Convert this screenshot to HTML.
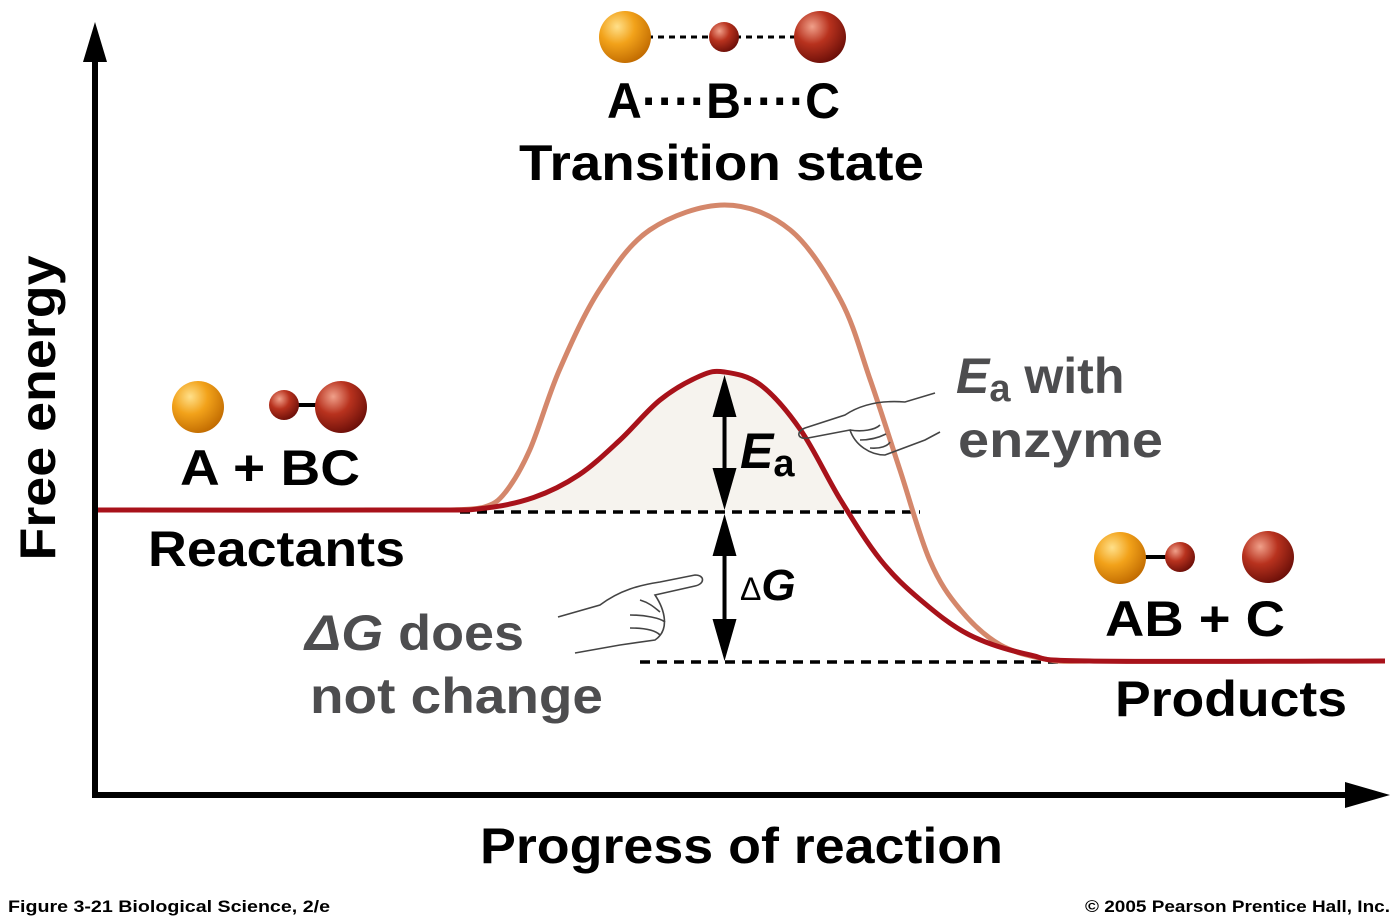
<!DOCTYPE html>
<html><head><meta charset="utf-8"><style>
html,body{margin:0;padding:0;background:#fff;}
svg{display:block;font-family:"Liberation Sans","DejaVu Sans",sans-serif;}
</style></head><body>
<svg id="chart" width="1400" height="918" viewBox="0 0 1400 918">
<defs>
<radialGradient id="gOr" cx="35%" cy="30%" r="75%"><stop offset="0" stop-color="#ffe08a"/><stop offset="0.45" stop-color="#f2a21a"/><stop offset="1" stop-color="#c06a00"/></radialGradient>
<radialGradient id="gRd" cx="35%" cy="30%" r="75%"><stop offset="0" stop-color="#f0a08a"/><stop offset="0.45" stop-color="#b8321e"/><stop offset="1" stop-color="#6a0e08"/></radialGradient>
</defs>
<g id="marks"></g>
<g>
<line x1="95" y1="50" x2="95" y2="797" stroke="#000" stroke-width="6"/>
<path d="M95,22 L83,62 L107,62 z" fill="#000"/>
</g>
<g>
<line x1="92" y1="795" x2="1360" y2="795" stroke="#000" stroke-width="6"/>
<path d="M1390,795 L1345,782 L1345,808 z" fill="#000"/>
</g>
<text transform="translate(55,408) rotate(-90)" text-anchor="middle" font-size="50" font-weight="bold" textLength="305" lengthAdjust="spacingAndGlyphs">Free energy</text>
<text x="480" y="863" font-size="50" font-weight="bold" textLength="523" lengthAdjust="spacingAndGlyphs">Progress of reaction</text>
<text x="8" y="912" font-size="17" font-weight="bold" textLength="322" lengthAdjust="spacingAndGlyphs">Figure 3-21   Biological Science, 2/e</text>
<text x="1085" y="912" font-size="17" font-weight="bold" textLength="305" lengthAdjust="spacingAndGlyphs">© 2005 Pearson Prentice Hall, Inc.</text>

<g>
<line x1="625" y1="37" x2="820" y2="37" stroke="#000" stroke-width="3" stroke-dasharray="6,5"/>
<circle cx="625" cy="37" r="26" fill="url(#gOr)"/>
<circle cx="724" cy="37" r="15" fill="url(#gRd)"/>
<circle cx="820" cy="37" r="26" fill="url(#gRd)"/>
</g>
<text x="607" y="118" font-size="50" font-weight="bold" textLength="233" lengthAdjust="spacingAndGlyphs">A····B····C</text>
<text x="519" y="180" font-size="50" font-weight="bold" textLength="405" lengthAdjust="spacingAndGlyphs">Transition state</text>

<g>
<circle cx="198" cy="407" r="26" fill="url(#gOr)"/>
<line x1="284" y1="405" x2="340" y2="405" stroke="#000" stroke-width="4"/>
<circle cx="284" cy="405" r="15" fill="url(#gRd)"/>
<circle cx="341" cy="407" r="26" fill="url(#gRd)"/>
</g>
<text x="180" y="485" font-size="50" font-weight="bold" textLength="180" lengthAdjust="spacingAndGlyphs">A + BC</text>
<text x="148" y="566" font-size="50" font-weight="bold" textLength="257" lengthAdjust="spacingAndGlyphs">Reactants</text>

<g>
<line x1="1120" y1="557" x2="1180" y2="557" stroke="#000" stroke-width="4"/>
<circle cx="1120" cy="558" r="26" fill="url(#gOr)"/>
<circle cx="1180" cy="557" r="15" fill="url(#gRd)"/>
<circle cx="1268" cy="557" r="26" fill="url(#gRd)"/>
</g>
<text x="1105" y="636" font-size="50" font-weight="bold" textLength="180" lengthAdjust="spacingAndGlyphs">AB + C</text>
<text x="1115" y="716" font-size="50" font-weight="bold" textLength="232" lengthAdjust="spacingAndGlyphs">Products</text>

<text x="740" y="468" font-size="50" font-weight="bold" font-style="italic">E<tspan font-size="38" font-style="normal" dy="8">a</tspan></text>
<text x="740" y="600" font-size="44" font-weight="bold"><tspan font-size="32" font-weight="normal">Δ</tspan><tspan font-style="italic">G</tspan></text>
<text x="956" y="393" font-size="50" font-weight="bold" fill="#4d4d4f"><tspan font-style="italic">E</tspan><tspan font-size="38" dy="8">a</tspan><tspan dy="-8"> with</tspan></text>
<text x="958" y="457" font-size="50" font-weight="bold" fill="#4d4d4f" textLength="205" lengthAdjust="spacingAndGlyphs">enzyme</text>
<text x="305" y="650" font-size="50" font-weight="bold" fill="#4d4d4f" textLength="219" lengthAdjust="spacingAndGlyphs"><tspan font-style="italic">ΔG</tspan> does</text>
<text x="310" y="713" font-size="50" font-weight="bold" fill="#4d4d4f" textLength="293" lengthAdjust="spacingAndGlyphs">not change</text>

<g fill="none" stroke="#444" stroke-width="1.6">
<path d="M935,393 L905,402 C880,400 860,405 845,415 L805,428 C795,432 798,440 808,438 L850,430 C855,445 870,455 885,455 L925,440 L940,432"/>
<path d="M850,430 C862,432 875,430 880,425 M860,440 C872,440 880,437 886,434 M870,448 C880,449 888,446 890,442"/>
</g>
<g fill="none" stroke="#444" stroke-width="1.6">
<path d="M558,617 L600,605 C620,590 640,585 660,582 L695,575 C705,575 705,584 695,586 L655,595 C665,610 670,630 655,640 L620,645 L575,653"/>
<path d="M640,600 C650,603 655,608 660,612 M630,615 C645,615 660,618 665,622 M630,628 C645,628 655,630 660,635"/>
</g>
</svg>
<script>
// data: progress (0-100) and free energy
const catProgress = [0, 25, 30, 34, 37.5, 40.7, 43.8, 46.9, 48.8, 51.6, 54.7, 57.8, 60.9, 64, 67.8, 72.5, 77.1, 100];
const catEnergy = [57, 57, 57.3, 59.5, 64, 71, 79, 83.8, 84.6, 82, 73, 59, 47, 39, 32, 28, 26.8, 26.8];
const uncatProgress = [27.5, 30.2, 31.8, 33.7, 36, 39.1, 43, 48.8, 53.9, 57.8, 60.1, 62.4, 64.7, 67.1, 70.2, 74, 77.1];
const uncatEnergy = [57, 57.6, 60.5, 69, 85, 101, 113, 118, 113, 99, 83, 65, 47, 37, 30, 27, 26.8];
const reactantLevel = 57;
const productLevel = 26.8;
const peakProgress = 48.8;

const X = p => 95 + p * 12.9;
const Y = e => 795 - e * 5;
const NS = "http://www.w3.org/2000/svg";
const g = document.getElementById('marks');
function smooth(px, py) {
  const pts = px.map((p, i) => [X(p), Y(py[i])]);
  let d = `M${pts[0][0]},${pts[0][1]}`;
  for (let i = 0; i < pts.length - 1; i++) {
    const p0 = pts[i - 1] || pts[i], p1 = pts[i], p2 = pts[i + 1], p3 = pts[i + 2] || p2;
    const c1 = [p1[0] + (p2[0] - p0[0]) / 6, p1[1] + (p2[1] - p0[1]) / 6];
    const c2 = [p2[0] - (p3[0] - p1[0]) / 6, p2[1] - (p3[1] - p1[1]) / 6];
    d += ` C${c1[0]},${c1[1]} ${c2[0]},${c2[1]} ${p2[0]},${p2[1]}`;
  }
  return d;
}
function mk(tag, attrs) { const el = document.createElementNS(NS, tag); for (const k in attrs) el.setAttribute(k, attrs[k]); g.appendChild(el); return el; }

const clip = document.createElementNS(NS, 'clipPath'); clip.setAttribute('id', 'aboveR');
const cr = document.createElementNS(NS, 'rect'); cr.setAttribute('x', 0); cr.setAttribute('y', 0); cr.setAttribute('width', 1400); cr.setAttribute('height', Y(reactantLevel));
clip.appendChild(cr); document.querySelector('defs').appendChild(clip);
const shade = mk('path', { d: smooth(catProgress, catEnergy) + ` L${X(100)},${Y(reactantLevel)} L${X(0)},${Y(reactantLevel)} Z`, fill: '#f6f3ee', 'clip-path': 'url(#aboveR)' });



const dl1 = mk('line', { x1: 460, x2: 920, y1: Y(reactantLevel) + 2, y2: Y(reactantLevel) + 2, stroke: '#000', 'stroke-width': 3.5, 'stroke-dasharray': '10,7' });


const dl2 = mk('line', { x1: 640, x2: 1060, y1: Y(productLevel) + 1, y2: Y(productLevel) + 1, stroke: '#000', 'stroke-width': 3.5, 'stroke-dasharray': '10,7' });



const u = mk('path', { d: smooth(uncatProgress, uncatEnergy), fill: 'none', stroke: '#d4876b', 'stroke-width': 5 });


const c = mk('path', { d: smooth(catProgress, catEnergy), fill: 'none', stroke: '#a8121a', 'stroke-width': 5 });



const catPeak = Math.max(...catEnergy);
function dblArrow(name, yTop, yBot) {
  const ax = X(peakProgress);
  const grp = document.createElementNS(NS, 'g'); g.appendChild(grp);
  
  
  const ln = document.createElementNS(NS, 'line');
  ln.setAttribute('x1', ax); ln.setAttribute('x2', ax); ln.setAttribute('y1', yTop + 20); ln.setAttribute('y2', yBot - 20);
  ln.setAttribute('stroke', '#000'); ln.setAttribute('stroke-width', 4); grp.appendChild(ln);
  const t = document.createElementNS(NS, 'path');
  t.setAttribute('d', `M${ax},${yTop} L${ax - 12},${yTop + 42} L${ax + 12},${yTop + 42} Z M${ax},${yBot} L${ax - 12},${yBot - 42} L${ax + 12},${yBot - 42} Z`);
  t.setAttribute('fill', '#000'); grp.appendChild(t);
}
dblArrow('ea-arrow', Y(catPeak) + 3, Y(reactantLevel));
dblArrow('delta-g-arrow', Y(reactantLevel) + 4, Y(productLevel));
</script>
</body></html>
